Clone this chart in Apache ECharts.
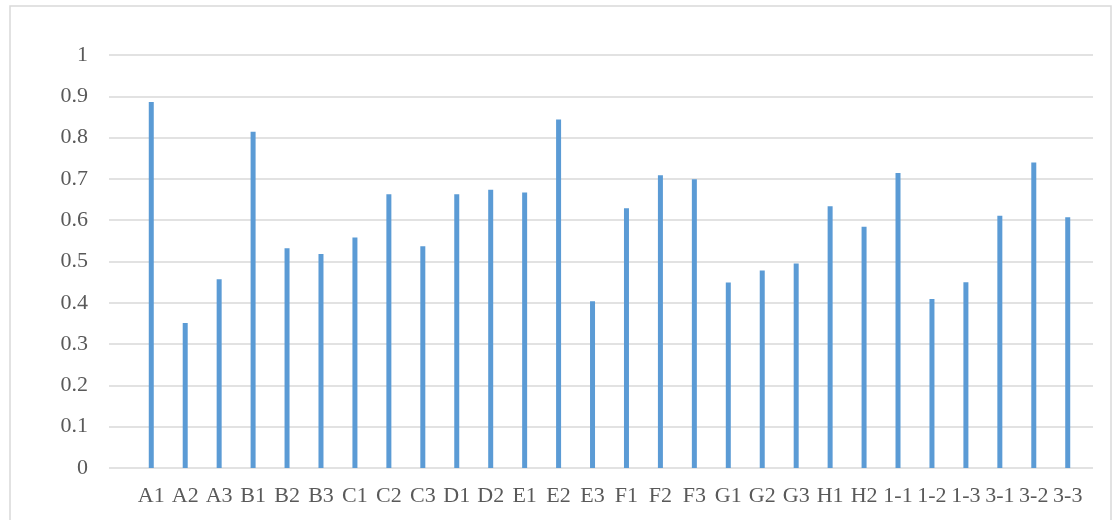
<!DOCTYPE html>
<html>
<head>
<meta charset="utf-8">
<script src="https://cdn.jsdelivr.net/npm/echarts@6/dist/echarts.min.js"></script>
<style>
  html, body { margin: 0; padding: 0; background: #fff; }
  #main { width: 1117px; height: 520px; }
</style>
</head>
<body>
<div id="main"></div>
<script>
// 类别与数值
const categories = ['A1', 'A2', 'A3', 'B1', 'B2', 'B3', 'C1', 'C2', 'C3', 'D1', 'D2', 'E1', 'E2', 'E3',
    'F1', 'F2', 'F3', 'G1', 'G2', 'G3', 'H1', 'H2', '1-1', '1-2', '1-3', '3-1', '3-2', '3-3'];
const values = [0.886, 0.351, 0.457, 0.814, 0.532, 0.518, 0.558, 0.663, 0.537, 0.663, 0.674, 0.667, 0.844, 0.404,
    0.629, 0.709, 0.699, 0.449, 0.478, 0.495, 0.634, 0.584, 0.714, 0.409, 0.450, 0.611, 0.740, 0.607];
const yMin = 0;
const yMax = 1;
const yStep = 0.1;

const chart = echarts.init(document.getElementById('main'));
const fontFamily = '"Liberation Serif", "Times New Roman", serif';
const textColor = '#595959';
const lineColor = '#d9d9d9';

const option = {
    backgroundColor: '#fff',
    animation: false,
    graphic: [{
        type: 'rect',
        shape: { x: 10, y: 6, width: 1101, height: 540 },
        style: { fill: 'none', stroke: lineColor, lineWidth: 1.5 },
        z: -1
    }],
    grid: [
        // 网格线和Y轴标签
        { left: 109, right: 24, top: 55, bottom: 52 },
        // 柱子和类别标签
        { left: 134.3, right: 32.3, top: 55, bottom: 52 }
    ],
    xAxis: [{
        gridIndex: 0,
        type: 'category',
        data: [''],
        show: false
    }, {
        gridIndex: 1,
        type: 'category',
        data: categories,
        axisLine: { show: false },
        axisTick: { show: false },
        axisLabel: {
            interval: 0,
            margin: 17,
            color: textColor,
            fontFamily: fontFamily,
            fontSize: 22
        }
    }],
    yAxis: [{
        gridIndex: 0,
        type: 'value',
        min: yMin,
        max: yMax,
        interval: yStep,
        axisLine: { show: false },
        axisTick: { show: false },
        axisLabel: {
            margin: 21,
            color: textColor,
            fontFamily: fontFamily,
            fontSize: 22
        },
        splitLine: { lineStyle: { color: lineColor, width: 1.5 } }
    }, {
        gridIndex: 1,
        type: 'value',
        min: yMin,
        max: yMax,
        interval: yStep,
        show: false
    }],
    series: [{
        type: 'bar',
        xAxisIndex: 1,
        yAxisIndex: 1,
        data: values,
        barWidth: 5,
        itemStyle: { color: '#5b9bd5' }
    }]
};

chart.setOption(option);
</script>
</body>
</html>
